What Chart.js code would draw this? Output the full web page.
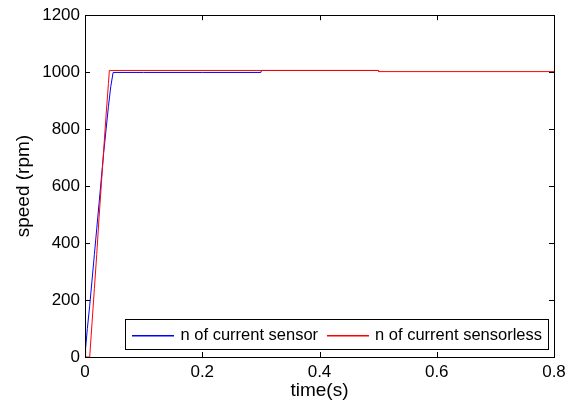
<!DOCTYPE html>
<html>
<head>
<meta charset="utf-8">
<script src="https://cdn.jsdelivr.net/npm/chart.js@4/dist/chart.umd.min.js"></script>
<style>
  html, body { margin: 0; padding: 0; background: #fff; }
  #wrap { width: 576px; height: 407px; }
</style>
</head>
<body>
<div id="wrap"><canvas id="myChart" width="576" height="407"></canvas></div>
<script>
// Datos
const tiempoSensor = [0, 0.001, 0.004, 0.008, 0.012, 0.016, 0.020, 0.024, 0.028, 0.032, 0.036, 0.040, 0.044, 0.048, 0.1, 0.2, 0.3, 0.301, 0.5];
const velSensor    = [0, 30, 100, 180, 270, 360, 450, 540, 630, 720, 800, 880, 950, 999, 999, 999, 999, 1006, 1006];

const tiempoSinSensor = [0, 0.008, 0.012, 0.016, 0.020, 0.024, 0.028, 0.032, 0.036, 0.040, 0.0415, 0.5, 0.501, 0.8];
const velSinSensor    = [0, 0, 120, 240, 360, 490, 610, 730, 850, 960, 1006, 1006, 1002, 1002];

const etiquetas = ['n of current sensor', 'n of current sensorless'];
const colores = ['#0000ff', '#ff0000'];
const xTicks = [0, 0.2, 0.4, 0.6, 0.8];
const yTicks = [0, 200, 400, 600, 800, 1000, 1200];

const FONT = 'Arial, "Liberation Sans", sans-serif';

function puntos(xs, ys) {
    return xs.map((x, i) => ({ x: x, y: ys[i] }));
}

// Caja y marcas hacia adentro, estilo MATLAB
const cajaPlugin = {
    id: 'caja',
    afterDatasetsDraw(chart) {
        const { ctx, chartArea: a, scales } = chart;
        ctx.save();
        ctx.strokeStyle = '#000';
        ctx.lineWidth = 1;
        ctx.beginPath();
        const len = 5;
        xTicks.forEach(v => {
            const px = Math.round(scales.x.getPixelForValue(v)) + 0.5;
            ctx.moveTo(px, a.bottom); ctx.lineTo(px, a.bottom - len);
            ctx.moveTo(px, a.top); ctx.lineTo(px, a.top + len);
        });
        yTicks.forEach(v => {
            const py = Math.round(scales.y.getPixelForValue(v)) + 0.5;
            ctx.moveTo(a.left, py); ctx.lineTo(a.left + len, py);
            ctx.moveTo(a.right, py); ctx.lineTo(a.right - len, py);
        });
        ctx.stroke();
        ctx.strokeRect(Math.round(a.left) + 0.5, Math.round(a.top) + 0.5,
            Math.round(a.right - a.left), Math.round(a.bottom - a.top));

        // Leyenda dentro del área
        ctx.font = '16.5px ' + FONT;
        ctx.textBaseline = 'middle';
        const anchos = etiquetas.map(t => ctx.measureText(t).width);
        const ancho = 7 + 42 + 7 + anchos[0] + 9 + 42 + 6 + anchos[1] + 6;
        const right = a.right - 6, bottom = a.bottom - 8;
        const left = right - ancho, top = bottom - 30;
        ctx.fillStyle = '#fff';
        ctx.fillRect(left, top, ancho, 30);
        ctx.strokeStyle = '#000';
        ctx.strokeRect(Math.round(left) + 0.5, Math.round(top) + 0.5, Math.round(ancho), 30);
        const cy = top + 16;
        let cx = left + 7;
        etiquetas.forEach((t, i) => {
            ctx.fillStyle = colores[i];
            ctx.fillRect(Math.round(cx), Math.round(cy), 42, 1.5);
            ctx.fillStyle = '#000';
            ctx.fillText(t, cx + 42 + (i === 0 ? 7 : 6), cy);
            cx += 42 + 7 + anchos[i] + 9;
        });
        ctx.restore();
    }
};

const ctx = document.getElementById('myChart').getContext('2d');
new Chart(ctx, {
    type: 'line',
    data: {
        datasets: [
            {
                label: etiquetas[0],
                data: puntos(tiempoSensor, velSensor),
                borderColor: colores[0],
                borderWidth: 1,
                pointRadius: 0,
                tension: 0,
                order: 1
            },
            {
                label: etiquetas[1],
                data: puntos(tiempoSinSensor, velSinSensor),
                borderColor: colores[1],
                borderWidth: 1,
                pointRadius: 0,
                tension: 0,
                order: 0
            }
        ]
    },
    options: {
        responsive: false,
        animation: false,
        layout: { padding: { left: 0, top: 14, right: 22, bottom: 0 } },
        plugins: { legend: { display: false }, tooltip: { enabled: false } },
        scales: {
            x: {
                type: 'linear',
                min: 0, max: 0.8,
                afterBuildTicks: s => { s.ticks = xTicks.map(v => ({ value: v })); },
                afterFit: s => { s.height = 50; },
                grid: { display: false, drawTicks: false },
                border: { display: false },
                ticks: {
                    color: '#000', padding: 5,
                    font: { family: FONT, size: 17 },
                    callback: v => String(v)
                },
                title: {
                    display: true, text: 'time(s)', color: '#000',
                    font: { family: FONT, size: 19 },
                    padding: { top: 0, bottom: 5 }
                }
            },
            y: {
                type: 'linear',
                min: 0, max: 1200,
                afterBuildTicks: s => { s.ticks = yTicks.map(v => ({ value: v })); },
                afterFit: s => { s.width = 85; },
                grid: { display: false, drawTicks: false },
                border: { display: false },
                ticks: {
                    color: '#000', padding: 5,
                    font: { family: FONT, size: 17 },
                    callback: v => String(v)
                },
                title: {
                    display: true, text: 'speed (rpm)', color: '#000',
                    font: { family: FONT, size: 19 },
                    padding: { top: 12, bottom: 0 }
                }
            }
        }
    },
    plugins: [cajaPlugin]
});
</script>
</body>
</html>
